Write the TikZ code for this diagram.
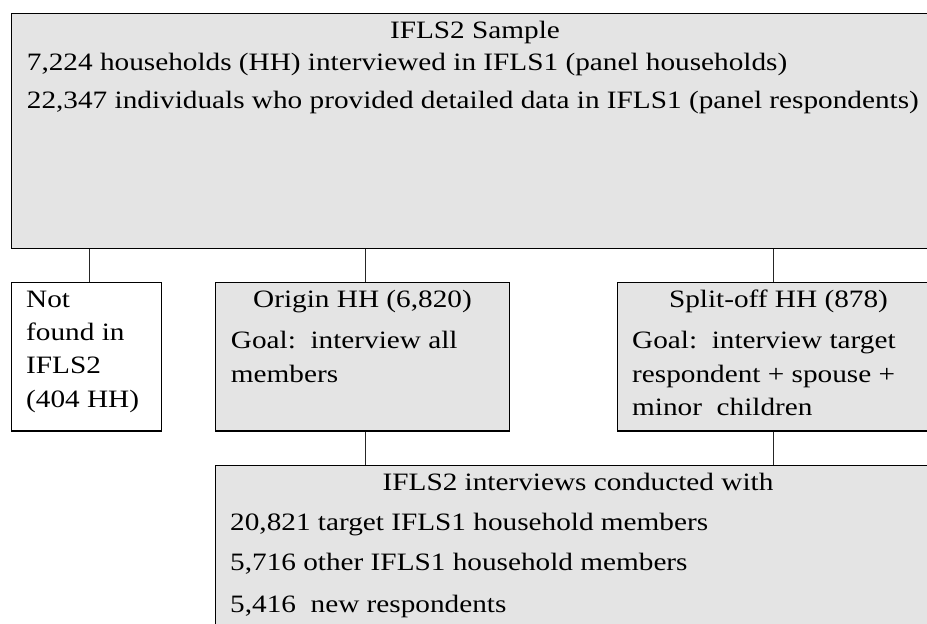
\documentclass[tikz,border=0pt]{standalone}
\usepackage{fontspec}
\setmainfont{Liberation Serif}[FakeStretch=1.17]
\definecolor{boxgray}{RGB}{228,228,228}
\begin{document}
\begin{tikzpicture}[x=1pt,y=-1pt,
  box/.style={draw=black,line width=1.3pt,fill=boxgray,rectangle,inner sep=0pt},
  wbox/.style={box,fill=white},
  conn/.style={draw=black!85,line width=0.7pt},
  txt/.style={inner sep=0pt,font=\fontsize{25}{28}\selectfont}]
\useasboundingbox (0,0) rectangle (927,624);
\clip (0,0) rectangle (927,624);
\fill[white] (0,0) rectangle (927,624);
% boxes
\node[box,minimum width=928.5pt,minimum height=235pt] (top) at (475.75,130.8) {};
\node[wbox,minimum width=150pt,minimum height=148.5pt] (nf) at (86.5,356.75) {};
\node[box,minimum width=294pt,minimum height=148.5pt] (orig) at (362.5,356.75) {};
\node[box,minimum width=322.7pt,minimum height=148.5pt] (split) at (778.65,356.75) {};
\node[box,minimum width=725.5pt,minimum height=190pt] (bot) at (578.25,560.5) {};
% connector x positions
\coordinate (xn) at (89.3,0);
\coordinate (xo) at (365.7,0);
\coordinate (xs) at (773.3,0);
\draw[conn] (xn |- top.south) -- (xn |- nf.north);
\draw[conn] (xo |- top.south) -- (xo |- orig.north);
\draw[conn] (xs |- top.south) -- (xs |- split.north);
\draw[conn] (xo |- orig.south) -- (xo |- bot.north);
\draw[conn] (xs |- split.south) -- (xs |- bot.north);
% top box text
\node[txt,anchor=base] (t0) at (475,38.5) {IFLS2 Sample};
\node[txt,anchor=base west] (t1) at (26.7,70.5) {7,224 households (HH) interviewed in IFLS1 (panel households)};
\node[txt,anchor=base west] (t2) at (26.7,108) {22,347 individuals who provided detailed data in IFLS1 (panel respondents)};
% not found
\node[txt,anchor=base west] (n1) at (26,307) {Not};
\node[txt,anchor=base west] (n2) at (26,340) {found in};
\node[txt,anchor=base west] (n3) at (26,373.5) {IFLS2};
\node[txt,anchor=base west] (n4) at (26,407) {(404 HH)};
% origin
\node[txt,anchor=base] (o0) at (362.5,307) {Origin HH (6,820)};
\node[txt,anchor=base west] (o1) at (230.7,348) {Goal:\ \ interview all};
\node[txt,anchor=base west] (o2) at (230.7,382) {members};
% split-off
\node[txt,anchor=base] (s0) at (778.5,307) {Split-off HH (878)};
\node[txt,anchor=base west] (s1) at (632,348) {Goal:\ \ interview target};
\node[txt,anchor=base west] (s2) at (632,382) {respondent + spouse +};
\node[txt,anchor=base west] (s3) at (632,415) {minor\ \ children};
% bottom
\node[txt,anchor=base] (b0) at (578,490) {IFLS2 interviews conducted with};
\node[txt,anchor=base west] (b1) at (230,530.5) {20,821 target IFLS1 household members};
\node[txt,anchor=base west] (b2) at (230,570.5) {5,716 other IFLS1 household members};
\node[txt,anchor=base west] (b3) at (230,612) {5,416\ \ new respondents};
\end{tikzpicture}
\end{document}
